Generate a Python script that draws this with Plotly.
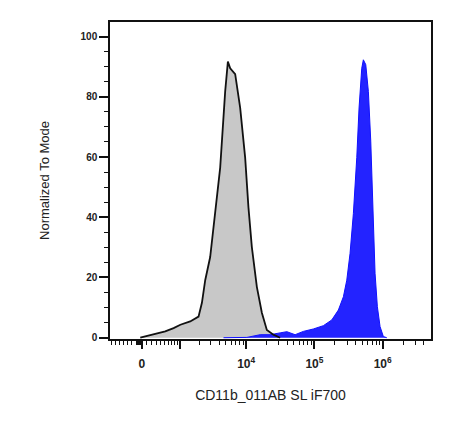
import numpy as np
import plotly.graph_objects as go

# biexponential-ish display: asinh(v / W)
W = 592.0

# control sample (grey)
ctrl_x = [-30, 137, 317, 519, 765, 1008, 1458, 1964, 2212, 2480, 2945, 3495, 4147,
          4914, 5387, 5826, 6897, 8170, 9667, 10804, 12118, 14344, 16985, 20098,
          25100, 31435]
ctrl_y = [0, 0.7, 1.6, 2.1, 3.2, 4.3, 5.4, 7.0, 11.6, 19.1, 26.8, 41.3, 56.5,
          81.8, 91.7, 89.5, 87.5, 76.3, 59.8, 43.3, 30.1, 16.9, 8.3, 2.6, 1.0, 0]

# stained sample (blue)
stain_x = [4640, 10243, 16037, 22462, 31435, 39427, 52155, 68968, 96590, 135331,
           179600, 224500, 265700, 297800, 332700, 371800, 417100, 450500, 493500,
           521000, 564800, 616900, 668400, 715100, 772600, 835300, 914600,
           1021800, 1146300]
stain_y = [0, 0.1, 1.0, 1.0, 1.6, 2.0, 1.0, 2.1, 2.9, 4.0, 5.9, 9.2, 13.6, 19.1,
           28.0, 41.2, 59.8, 76.3, 89.5, 92.3, 90.7, 81.8, 65.3, 43.3, 21.4,
           10.3, 3.7, 0.4, 0]

major_vals = [0, 1e3, 1e4, 1e5, 1e6]
major_text = ["0", "", "10<sup>4</sup>", "10<sup>5</sup>", "10<sup>6</sup>"]
minor_vals = ([-700, -600, -500, -400, -300, -200, -100]
              + [-90, -80, -70, -60, -50, -40, -30, -20, -10]
              + [100, 200, 300, 400, 500, 600, 700, 800, 900]
              + [2e3, 3e3, 4e3, 5e3, 6e3, 7e3, 8e3, 9e3]
              + [2e4, 3e4, 4e4, 5e4, 6e4, 7e4, 8e4, 9e4]
              + [2e5, 3e5, 4e5, 5e5, 6e5, 7e5, 8e5, 9e5]
              + [2e6, 3e6, 4e6])


def tr(v):
    return np.arcsinh(np.asarray(v, dtype=float) / W)


fig = go.Figure()

fig.add_trace(go.Scatter(
    x=tr(ctrl_x), y=ctrl_y, mode='lines', fill='tozeroy',
    fillcolor='#c8c8c8', line=dict(color='rgba(0,0,0,0)', width=0),
    showlegend=False, hoverinfo='skip'
))
fig.add_trace(go.Scatter(
    x=tr(stain_x), y=stain_y, mode='lines', fill='tozeroy',
    fillcolor='#2323ff', line=dict(color='#1010ff', width=1),
    showlegend=False
))
# outline of the control drawn on top
fig.add_trace(go.Scatter(
    x=tr(ctrl_x), y=ctrl_y, mode='lines',
    line=dict(color='#111111', width=1.8),
    showlegend=False
))

tick_font = dict(family='Liberation Sans, Arial', size=10, color='#222222', weight='bold')

# page body adds ~8px offset, so the figure is a bit smaller than the window
fig.update_layout(
    width=463, height=418,
    margin=dict(l=102, r=40, t=12, b=87),
    plot_bgcolor='white',
    paper_bgcolor='white',
    font=dict(family='Liberation Sans, Arial', color='#222222'),
    xaxis=dict(
        range=[-1.071, 9.754],
        tickmode='array',
        tickvals=tr(major_vals),
        ticktext=major_text,
        ticks='outside', ticklen=8, tickwidth=2, tickcolor='#111111',
        minor=dict(tickmode='array', tickvals=tr(minor_vals), ticks='outside',
                   ticklen=4, tickwidth=1, tickcolor='#111111'),
        showgrid=False, zeroline=False,
        showline=True, linecolor='#111111', linewidth=1.5, mirror=True,
        ticklabelstandoff=5,
        tickfont=dict(family='Liberation Sans, Arial', size=12, color='#222222', weight='bold'),
        title=dict(text='CD11b_011AB SL iF700', standoff=20,
                   font=dict(family='Liberation Sans, Arial', size=14, color='#222222')),
    ),
    yaxis=dict(
        range=[-0.43, 104.85],
        tickmode='array',
        tickvals=[0, 20, 40, 60, 80, 100],
        ticks='outside', ticklen=9, tickwidth=2, tickcolor='#111111',
        minor=dict(tickmode='array',
                   tickvals=[5, 10, 15, 25, 30, 35, 45, 50, 55, 65, 70, 75, 85, 90, 95],
                   ticks='outside', ticklen=4, tickwidth=1, tickcolor='#111111'),
        showgrid=False, zeroline=False,
        showline=True, linecolor='#111111', linewidth=1.5, mirror=True,
        tickfont=tick_font,
        title=dict(text='Normalized To Mode', standoff=28,
                   font=dict(family='Liberation Sans, Arial', size=13, color='#222222')),
    ),
)

fig.write_html("out.html")
